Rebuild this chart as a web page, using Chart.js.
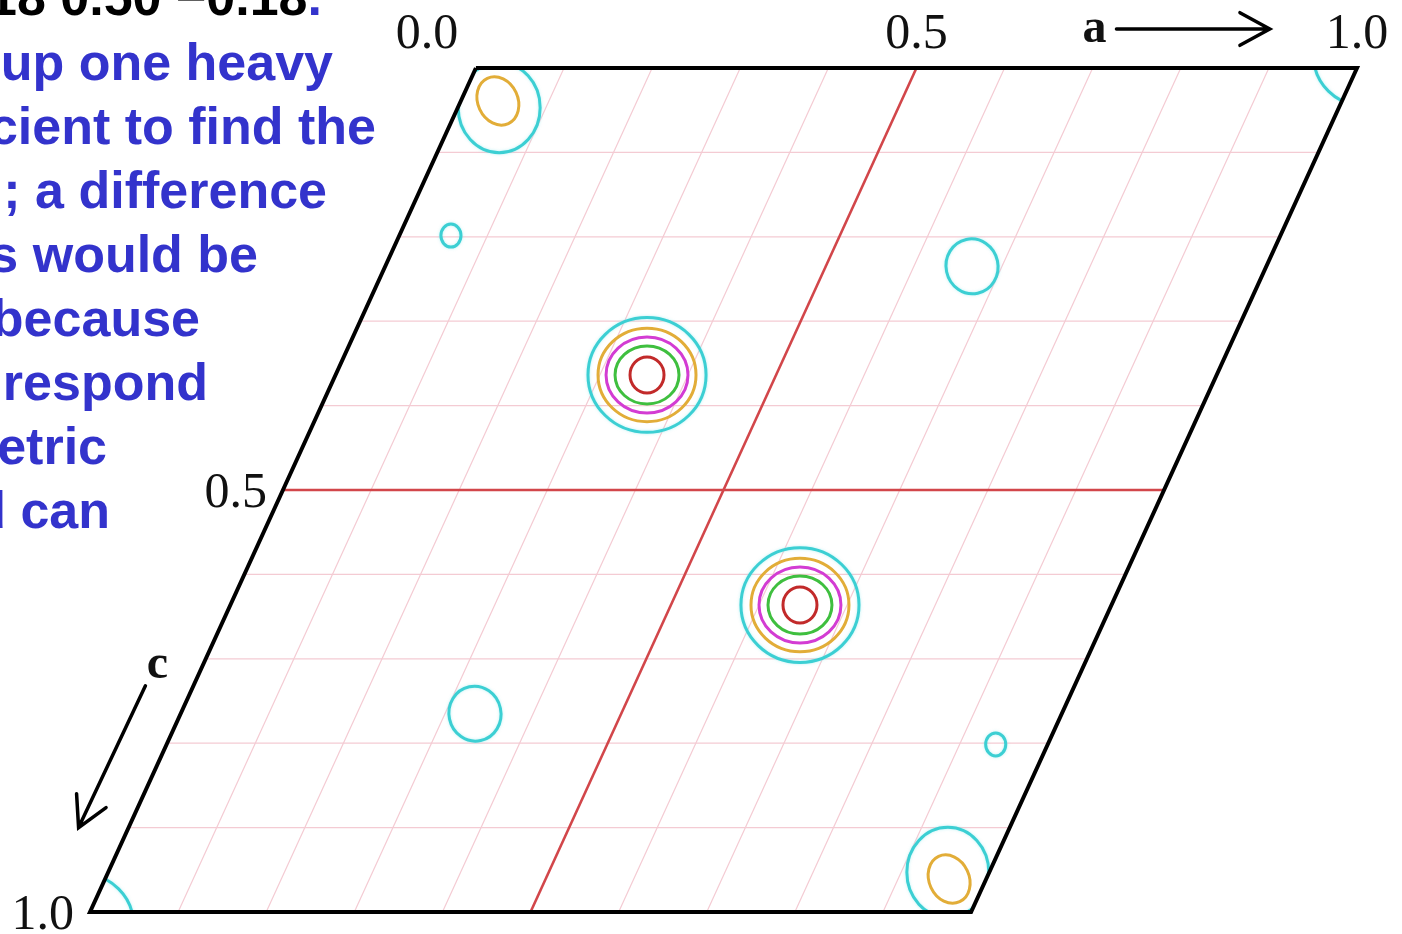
<!DOCTYPE html>
<html>
<head>
<meta charset="utf-8">
<script src="https://cdn.jsdelivr.net/npm/chart.js@4.4.0/dist/chart.umd.min.js"></script>
<style>
body { margin: 0; background: #fff; overflow: hidden; }
#wrap { position: relative; width: 1402px; height: 934px; overflow: hidden; }
#map { position: absolute; left: 0; top: 0; }
.txt { position: absolute; white-space: nowrap; font: bold 52px "Liberation Sans", Arial, sans-serif; line-height: 52px; color: #3333cc; }
</style>
</head>
<body>
<div id="wrap">
<canvas id="map" width="1402" height="934"></canvas>
<div class="txt" style="right:1080px;top:-29px;color:#000">0.18 0.50 −0.18<span style="color:#3333cc">.</span></div>
<div class="txt" style="right:1069px;top:36px">up one heavy</div>
<div class="txt" style="right:1026px;top:100px">cient to find the</div>
<div class="txt" style="right:1075px;top:164px">; a difference</div>
<div class="txt" style="right:1144px;top:228px">s would be</div>
<div class="txt" style="right:1202px;top:292px">because</div>
<div class="txt" style="right:1194px;top:356px">respond</div>
<div class="txt" style="right:1295px;top:420px">etric</div>
<div class="txt" style="right:1292px;top:484px">d can</div>
</div>
<script>
// shift in x per unit of c (the c axis leans to the left)
const SKEW = -0.438;

// grid of the cell, in fractions of a and c
const gridSteps = [0.1, 0.2, 0.3, 0.4, 0.6, 0.7, 0.8, 0.9];
const halfLines = [0.5];
const cellCorners = [[0, 0], [1, 0], [1, 1], [0, 1], [0, 0]];

// tick labels
const originLabel = '0.0';
const aTicks = [0.5, 1.0];
const aTickLabels = ['0.5', '1.0'];
const cTicks = [0.5, 1.0];
const cTickLabels = ['0.5', '1.0'];

// contours: centre (a, c), half widths in a and c, tilt in degrees, level
const contourA =  [0.3535, 0.3535, 0.3535, 0.3535, 0.3535,
                   0.6465, 0.6465, 0.6465, 0.6465, 0.6465,
                   0.047, 0.042, 0.953, 0.958,
                   1.002, -0.002,
                   0.0586, 0.941, 0.666, 0.334];
const contourC =  [0.3637, 0.3637, 0.3637, 0.3637, 0.3637,
                   0.6363, 0.6363, 0.6363, 0.6363, 0.6363,
                   0.047, 0.039, 0.953, 0.961,
                   -0.015, 1.015,
                   0.1985, 0.8015, 0.235, 0.765];
const contourRa = [0.067, 0.0556, 0.0465, 0.0363, 0.0193,
                   0.067, 0.0556, 0.0465, 0.0363, 0.0193,
                   0.0465, 0.0227, 0.0465, 0.0227,
                   0.058, 0.058,
                   0.0114, 0.0114, 0.0295, 0.0295];
const contourRc = [0.068, 0.0553, 0.045, 0.0344, 0.0213,
                   0.068, 0.0553, 0.045, 0.0344, 0.0213,
                   0.0533, 0.0296, 0.0533, 0.0296,
                   0.060, 0.060,
                   0.0136, 0.0136, 0.0326, 0.0326];
const contourTilt = [0, 0, 0, 0, 0,
                     0, 0, 0, 0, 0,
                     0, -25, 0, -25,
                     0, 0,
                     0, 0, -12, -12];
const contourLevel = [0, 1, 2, 3, 4,
                      0, 1, 2, 3, 4,
                      0, 1, 0, 1,
                      0, 0,
                      0, 0, 0, 0];
const levelColors = ['#3ccfd3', '#e2ad38', '#d33cd3', '#3fbf3f', '#c22a2a'];

function toXY(a, c) {
    return {x: a + c * SKEW, y: c};
}

function lineSet(points, color, width, order, label) {
    return {
        label: label || '',
        data: points,
        showLine: true,
        borderColor: color,
        borderWidth: width,
        pointRadius: 0,
        order: order,
        clip: false
    };
}

let datasets = [];
for (const g of gridSteps) {
    datasets.push(lineSet([toXY(g, 0), toXY(g, 1)], '#f4cbd3', 1.2, 5));
    datasets.push(lineSet([toXY(0, g), toXY(1, g)], '#f4cbd3', 1.2, 5));
}
for (const h of halfLines) {
    datasets.push(lineSet([toXY(h, 0), toXY(h, 1)], '#d2464a', 2.6, 3));
    datasets.push(lineSet([toXY(0, h), toXY(1, h)], '#d2464a', 2.6, 3));
}
let cell = lineSet(cellCorners.map(p => toXY(p[0], p[1])), '#000', 4, 0, 'cell');
cell.borderJoinStyle = 'miter';
datasets.push(cell);

const mapPlugin = {
    id: 'mapPlugin',
    beforeDatasetDraw(chart, args) {
        if (chart.data.datasets[args.index].label !== 'cell') return;
        const ctx = chart.ctx;
        const xs = chart.scales.x, ys = chart.scales.y;
        const px = (a, c) => [xs.getPixelForValue(a + c * SKEW), ys.getPixelForValue(c)];
        const ux = xs.getPixelForValue(1) - xs.getPixelForValue(0);
        const uy = ys.getPixelForValue(1) - ys.getPixelForValue(0);
        ctx.save();
        ctx.beginPath();
        cellCorners.forEach((p, i) => {
            const [x, y] = px(p[0], p[1]);
            if (i === 0) ctx.moveTo(x, y); else ctx.lineTo(x, y);
        });
        ctx.clip();
        ctx.lineWidth = 3;
        for (let i = 0; i < contourA.length; i++) {
            const [cx, cy] = px(contourA[i], contourC[i]);
            ctx.beginPath();
            ctx.ellipse(cx, cy, contourRa[i] * ux, Math.abs(contourRc[i] * uy),
                contourTilt[i] * Math.PI / 180, 0, 2 * Math.PI);
            ctx.strokeStyle = levelColors[contourLevel[i]];
            ctx.shadowColor = 'rgba(120,230,235,0.5)';
            ctx.shadowBlur = contourLevel[i] === 0 ? 3 : 0;
            ctx.stroke();
        }
        ctx.restore();
    },
    afterDraw(chart) {
        const ctx = chart.ctx;
        const xs = chart.scales.x, ys = chart.scales.y;
        const px = (a, c) => [xs.getPixelForValue(a + c * SKEW), ys.getPixelForValue(c)];
        ctx.save();
        ctx.fillStyle = '#111';
        ctx.font = '50px "Liberation Serif", "Times New Roman", serif';
        ctx.textBaseline = 'alphabetic';
        ctx.textAlign = 'center';
        const [ox, oy] = px(0, 0);
        ctx.fillText(originLabel, ox - 49, oy - 20);
        aTicks.forEach((t, i) => {
            const [x, y] = px(t, 0);
            ctx.fillText(aTickLabels[i], x, y - 20);
        });
        ctx.textAlign = 'right';
        cTicks.forEach((t, i) => {
            const [x, y] = px(0, t);
            ctx.fillText(cTickLabels[i], x - 16, y + 17);
        });

        // axis arrows
        ctx.strokeStyle = '#000';
        ctx.lineWidth = 3.5;
        ctx.lineCap = 'round';
        const arrow = (x0, y0, x1, y1) => {
            const ang = Math.atan2(y1 - y0, x1 - x0);
            ctx.beginPath();
            ctx.moveTo(x0, y0);
            ctx.lineTo(x1, y1);
            ctx.moveTo(x1 - 34 * Math.cos(ang - 0.5), y1 - 34 * Math.sin(ang - 0.5));
            ctx.lineTo(x1, y1);
            ctx.lineTo(x1 - 34 * Math.cos(ang + 0.5), y1 - 34 * Math.sin(ang + 0.5));
            ctx.stroke();
        };
        const [a0x, a0y] = px(0.727, 0);
        const [a1x] = px(0.901, 0);
        arrow(a0x, a0y - 39, a1x, a0y - 39);
        const [c0x, c0y] = px(0, 0.732);
        const [c1x, c1y] = px(0, 0.9);
        arrow(c0x - 48, c0y, c1x - 50, c1y);

        ctx.font = 'bold 48px "Liberation Serif", "Times New Roman", serif';
        ctx.textAlign = 'right';
        ctx.fillText('a', a0x - 10, a0y - 26);
        ctx.textAlign = 'center';
        ctx.fillText('c', c0x - 36, c0y - 8);
        ctx.restore();
    }
};

new Chart(document.getElementById('map'), {
    type: 'scatter',
    data: {datasets: datasets},
    options: {
        responsive: false,
        animation: false,
        devicePixelRatio: 1,
        layout: {padding: {left: 90, right: 45, top: 68, bottom: 22}},
        scales: {
            x: {type: 'linear', display: false, min: SKEW, max: 1},
            y: {type: 'linear', display: false, min: 0, max: 1, reverse: true}
        },
        plugins: {legend: {display: false}, tooltip: {enabled: false}}
    },
    plugins: [mapPlugin]
});
</script>
</body>
</html>
